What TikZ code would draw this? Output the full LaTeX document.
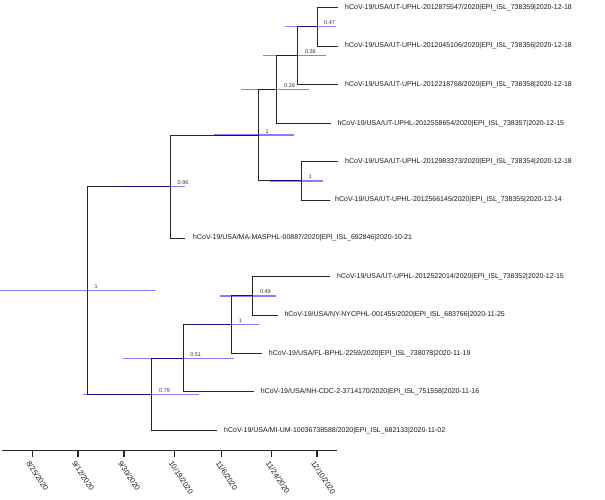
\documentclass[tikz,border=0pt]{standalone}
\usepackage{fontspec}
\setmainfont{Liberation Sans}
\begin{document}
\begin{tikzpicture}[x=1pt,y=-1pt,
  branch/.style={draw=black!85,line width=0.9pt},
  hpdbar/.style={draw=blue,line width=1.4pt,opacity=0.5},
  leaf/.style={anchor=west,inner sep=0pt,font=\fontsize{7}{8}\selectfont,text=black!90},
  supp/.style={anchor=base west,inner sep=0pt,font=\fontsize{5.5}{6}\selectfont,text=black!80},
  axisline/.style={draw=black!85,line width=0.9pt},
  tickmark/.style={draw=black!85,line width=1.3pt},
  ticklabel/.style={anchor=north west,inner sep=0pt,rotate=-57,font=\fontsize{7.5}{8}\selectfont,text=black!90}]
\useasboundingbox (0,0) rectangle (605,500);
% internal nodes
\coordinate (root) at (87.3,290.5);
\coordinate (n096) at (170.7,186.7);
\coordinate (nU1) at (258.3,135.2);
\coordinate (n029) at (276.7,89.7);
\coordinate (n036) at (297.3,55.7);
\coordinate (n047) at (317,26.7);
\coordinate (nU2) at (301.7,180.8);
\coordinate (n079) at (151.7,394.3);
\coordinate (n051) at (183.3,358.2);
\coordinate (nL1) at (231.7,324.6);
\coordinate (n049) at (252.3,295.9);
% leaf ends
\coordinate (l359) at (338.3,7.3);
\coordinate (l356) at (338.3,46);
\coordinate (l358) at (338.3,84.3);
\coordinate (l357) at (331,123.3);
\coordinate (l354) at (338.3,161.7);
\coordinate (l355) at (330,200);
\coordinate (l846) at (185,238);
\coordinate (l352) at (330,276.7);
\coordinate (l766) at (277.7,315);
\coordinate (l078) at (262,353.3);
\coordinate (l558) at (254,391.7);
\coordinate (l133) at (216.7,430.3);
% branches
\draw[branch] (root) |- (n096);
\draw[branch] (root) |- (n079);
\draw[branch] (n096) |- (nU1);
\draw[branch] (n096) |- (l846);
\draw[branch] (nU1) |- (n029);
\draw[branch] (nU1) |- (nU2);
\draw[branch] (n029) |- (n036);
\draw[branch] (n029) |- (l357);
\draw[branch] (n036) |- (n047);
\draw[branch] (n036) |- (l358);
\draw[branch] (n047) |- (l359);
\draw[branch] (n047) |- (l356);
\draw[branch] (nU2) |- (l354);
\draw[branch] (nU2) |- (l355);
\draw[branch] (n079) |- (n051);
\draw[branch] (n079) |- (l133);
\draw[branch] (n051) |- (nL1);
\draw[branch] (n051) |- (l558);
\draw[branch] (nL1) |- (n049);
\draw[branch] (nL1) |- (l078);
\draw[branch] (n049) |- (l352);
\draw[branch] (n049) |- (l766);
% HPD bars
\draw[hpdbar] ([xshift=-87.3pt]root) -- ([xshift=68.4pt]root);
\draw[hpdbar] ([xshift=-48.7pt]n096) -- ([xshift=14.3pt]n096);
\draw[hpdbar] ([xshift=-44.3pt]nU1) -- ([xshift=35.2pt]nU1);
\draw[hpdbar] ([xshift=-35.7pt]n029) -- ([xshift=32.3pt]n029);
\draw[hpdbar] ([xshift=-34.3pt]n036) -- ([xshift=28.7pt]n036);
\draw[hpdbar] ([xshift=-32.3pt]n047) -- ([xshift=19pt]n047);
\draw[hpdbar] ([xshift=-31.7pt]nU2) -- ([xshift=21.3pt]nU2);
\draw[hpdbar] ([xshift=-68.4pt]n079) -- ([xshift=47pt]n079);
\draw[hpdbar] ([xshift=-60.6pt]n051) -- ([xshift=50.4pt]n051);
\draw[hpdbar] ([xshift=-38.4pt]nL1) -- ([xshift=27pt]nL1);
\draw[hpdbar] ([xshift=-32.3pt]n049) -- ([xshift=23.4pt]n049);
% support labels
\node[supp] (sroot) at ([xshift=7pt,yshift=2pt]root) {1};
\node[supp] (s096) at ([xshift=6.8pt,yshift=2pt]n096) {0.96};
\node[supp] (sU1) at ([xshift=7pt,yshift=2pt]nU1) {1};
\node[supp] (s029) at ([xshift=7.3pt,yshift=2pt]n029) {0.29};
\node[supp] (s036) at ([xshift=7.5pt,yshift=2pt]n036) {0.36};
\node[supp] (s047) at ([xshift=7pt,yshift=2pt]n047) {0.47};
\node[supp] (sU2) at ([xshift=7pt,yshift=2pt]nU2) {1};
\node[supp] (s079) at ([xshift=7.3pt,yshift=2pt]n079) {0.79};
\node[supp] (s051) at ([xshift=6.8pt,yshift=2pt]n051) {0.51};
\node[supp] (sL1) at ([xshift=7pt,yshift=2pt]nL1) {1};
\node[supp] (s049) at ([xshift=7.5pt,yshift=2pt]n049) {0.49};
% leaf labels
\node[leaf] (t359) at ([xshift=6.7pt]l359) {hCoV-19/USA/UT-UPHL-2012875547/2020|EPI\_ISL\_738359|2020-12-18};
\node[leaf] (t356) at ([xshift=6.7pt]l356) {hCoV-19/USA/UT-UPHL-2012045106/2020|EPI\_ISL\_738356|2020-12-18};
\node[leaf] (t358) at ([xshift=6.7pt]l358) {hCoV-19/USA/UT-UPHL-2012218768/2020|EPI\_ISL\_738358|2020-12-18};
\node[leaf] (t357) at ([xshift=6.3pt]l357) {hCoV-19/USA/UT-UPHL-2012558654/2020|EPI\_ISL\_738357|2020-12-15};
\node[leaf] (t354) at ([xshift=6.7pt]l354) {hCoV-19/USA/UT-UPHL-2012983373/2020|EPI\_ISL\_738354|2020-12-18};
\node[leaf] (t355) at ([xshift=5pt]l355) {hCoV-19/USA/UT-UPHL-2012566145/2020|EPI\_ISL\_738355|2020-12-14};
\node[leaf] (t846) at ([xshift=8pt]l846) {hCoV-19/USA/MA-MASPHL-00887/2020|EPI\_ISL\_692846|2020-10-21};
\node[leaf] (t352) at ([xshift=7pt]l352) {hCoV-19/USA/UT-UPHL-2012522014/2020|EPI\_ISL\_738352|2020-12-15};
\node[leaf] (t766) at ([xshift=6.6pt]l766) {hCoV-19/USA/NY-NYCPHL-001455/2020|EPI\_ISL\_683766|2020-11-25};
\node[leaf] (t078) at ([xshift=6.7pt]l078) {hCoV-19/USA/FL-BPHL-2259/2020|EPI\_ISL\_738078|2020-11-19};
\node[leaf] (t558) at ([xshift=6.7pt]l558) {hCoV-19/USA/NH-CDC-2-3714170/2020|EPI\_ISL\_751558|2020-11-16};
\node[leaf] (t133) at ([xshift=7.3pt]l133) {hCoV-19/USA/MI-UM-10036738588/2020|EPI\_ISL\_682133|2020-11-02};
% axis
\coordinate (ax0) at (2,450.7);
\coordinate (ax1) at (337.3,450.7);
\draw[axisline] (ax0) -- (ax1);
\foreach \x/\d [count=\i] in {32.3/8\slash 25\slash 2020,78/9\slash 12\slash 2020,124/9\slash 30\slash 2020,174.7/10\slash 19\slash 2020,221.7/11\slash 6\slash 2020,271.7/11\slash 24\slash 2020,317/12\slash 10\slash 2020}{
  \coordinate (tk\i) at (\x,450.7);
  \draw[tickmark] (tk\i) -- ++(0,6.5);
  \node[ticklabel] (tl\i) at ([xshift=-1.5pt,yshift=-9.5pt]tk\i) {\d};
}
\end{tikzpicture}
\end{document}
